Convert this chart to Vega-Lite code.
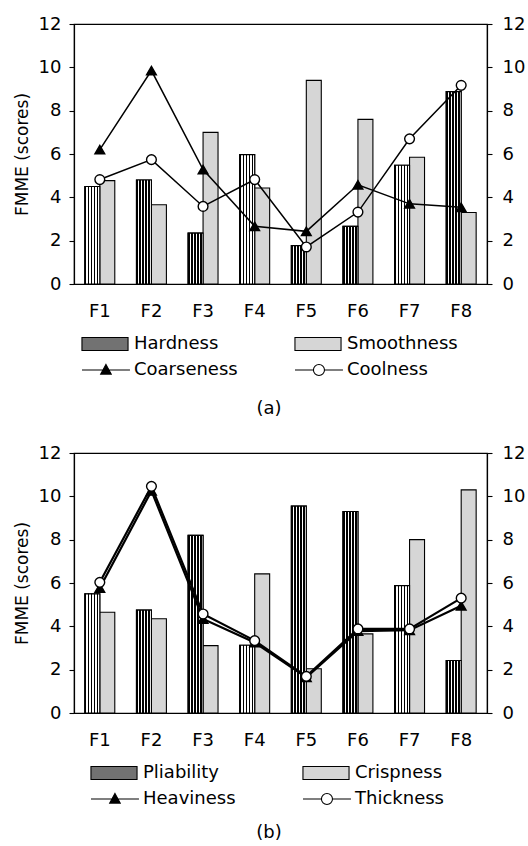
{
  "$schema": "https://vega.github.io/schema/vega-lite/v6.json",
  "padding": {"left": 12, "top": 14, "right": 5, "bottom": 0},
  "spacing": 24,
  "resolve": {"scale": {"fill": "independent", "shape": "independent", "xOffset": "independent", "x": "independent", "y": "independent"}, "legend": {"fill": "independent", "shape": "independent"}},
  "datasets": {
    "a": [
      {"F": "F1", "series": "Hardness", "value": 4.5},
      {"F": "F2", "series": "Hardness", "value": 4.8},
      {"F": "F3", "series": "Hardness", "value": 2.35},
      {"F": "F4", "series": "Hardness", "value": 5.97},
      {"F": "F5", "series": "Hardness", "value": 1.77},
      {"F": "F6", "series": "Hardness", "value": 2.66},
      {"F": "F7", "series": "Hardness", "value": 5.48},
      {"F": "F8", "series": "Hardness", "value": 8.88},
      {"F": "F1", "series": "Smoothness", "value": 4.77},
      {"F": "F2", "series": "Smoothness", "value": 3.66},
      {"F": "F3", "series": "Smoothness", "value": 7.0},
      {"F": "F4", "series": "Smoothness", "value": 4.43},
      {"F": "F5", "series": "Smoothness", "value": 9.4},
      {"F": "F6", "series": "Smoothness", "value": 7.6},
      {"F": "F7", "series": "Smoothness", "value": 5.85},
      {"F": "F8", "series": "Smoothness", "value": 3.3},
      {"F": "F1", "series": "Coarseness", "value": 6.2},
      {"F": "F2", "series": "Coarseness", "value": 9.85},
      {"F": "F3", "series": "Coarseness", "value": 5.28},
      {"F": "F4", "series": "Coarseness", "value": 2.66},
      {"F": "F5", "series": "Coarseness", "value": 2.43},
      {"F": "F6", "series": "Coarseness", "value": 4.58},
      {"F": "F7", "series": "Coarseness", "value": 3.7},
      {"F": "F8", "series": "Coarseness", "value": 3.54},
      {"F": "F1", "series": "Coolness", "value": 4.82},
      {"F": "F2", "series": "Coolness", "value": 5.74},
      {"F": "F3", "series": "Coolness", "value": 3.58},
      {"F": "F4", "series": "Coolness", "value": 4.82},
      {"F": "F5", "series": "Coolness", "value": 1.71},
      {"F": "F6", "series": "Coolness", "value": 3.32},
      {"F": "F7", "series": "Coolness", "value": 6.7},
      {"F": "F8", "series": "Coolness", "value": 9.17}
    ],
    "b": [
      {"F": "F1", "series": "Pliability", "value": 5.5},
      {"F": "F2", "series": "Pliability", "value": 4.75},
      {"F": "F3", "series": "Pliability", "value": 8.2},
      {"F": "F4", "series": "Pliability", "value": 3.13},
      {"F": "F5", "series": "Pliability", "value": 9.55},
      {"F": "F6", "series": "Pliability", "value": 9.3},
      {"F": "F7", "series": "Pliability", "value": 5.88},
      {"F": "F8", "series": "Pliability", "value": 2.42},
      {"F": "F1", "series": "Crispness", "value": 4.65},
      {"F": "F2", "series": "Crispness", "value": 4.35},
      {"F": "F3", "series": "Crispness", "value": 3.11},
      {"F": "F4", "series": "Crispness", "value": 6.42},
      {"F": "F5", "series": "Crispness", "value": 2.04},
      {"F": "F6", "series": "Crispness", "value": 3.65},
      {"F": "F7", "series": "Crispness", "value": 8.0},
      {"F": "F8", "series": "Crispness", "value": 10.3},
      {"F": "F1", "series": "Heaviness", "value": 5.77},
      {"F": "F2", "series": "Heaviness", "value": 10.25},
      {"F": "F3", "series": "Heaviness", "value": 4.34},
      {"F": "F4", "series": "Heaviness", "value": 3.25},
      {"F": "F5", "series": "Heaviness", "value": 1.65},
      {"F": "F6", "series": "Heaviness", "value": 3.78},
      {"F": "F7", "series": "Heaviness", "value": 3.82},
      {"F": "F8", "series": "Heaviness", "value": 4.95},
      {"F": "F1", "series": "Thickness", "value": 6.03},
      {"F": "F2", "series": "Thickness", "value": 10.46},
      {"F": "F3", "series": "Thickness", "value": 4.57},
      {"F": "F4", "series": "Thickness", "value": 3.34},
      {"F": "F5", "series": "Thickness", "value": 1.69},
      {"F": "F6", "series": "Thickness", "value": 3.88},
      {"F": "F7", "series": "Thickness", "value": 3.88},
      {"F": "F8", "series": "Thickness", "value": 5.3}
    ]
  },
  "vconcat": [
    {
      "width": 413,
      "height": 260,
      "data": {"name": "a"},
      "title": {"text": "(a)", "orient": "bottom", "anchor": "middle", "frame": "bounds", "offset": 21, "fontSize": 18, "fontWeight": "normal", "font": "DejaVu Sans", "color": "black"},
      "resolve": {"axis": {"y": "independent"}},
      "layer": [
        {
          "transform": [{"filter": "datum.series === 'Hardness' || datum.series === 'Smoothness'"}],
          "mark": {"type": "bar", "stroke": "black", "strokeWidth": 1.1},
          "encoding": {
            "x": {"field": "F", "type": "nominal", "sort": null, "scale": {"paddingInner": 0.42, "paddingOuter": 0.21},
                  "axis": {"title": null, "labelAngle": 0, "ticks": false, "labelPadding": 18}},
            "xOffset": {"field": "series", "type": "nominal", "scale": {"domain": ["Hardness", "Smoothness"], "paddingInner": 0, "paddingOuter": 0}},
            "y": {"field": "value", "type": "quantitative", "scale": {"domain": [0, 12], "nice": false},
                  "axis": {"orient": "left", "title": "FMME (scores)", "values": [0, 2, 4, 6, 8, 10, 12], "tickSize": 5, "labelPadding": 8, "titlePadding": 7}},
            "fill": {"field": "series", "type": "nominal",
              "scale": {"domain": ["Hardness", "Smoothness", "Coarseness", "Coolness"], "range": ["#727272", "#d6d6d6", "#000000", "#ffffff"]},
              "legend": {
                "orient": "none", "direction": "horizontal", "legendX": 6, "legendY": 311, "columns": 2, "columnPadding": 55, "rowPadding": 8,
                "clipHeight": 18, "symbolSize": 2304, "labelOffset": 4, "title": null, "padding": 0,
                "symbolStrokeColor": "black", "symbolStrokeWidth": 1.1, "symbolOpacity": 1,
                "encode": {"symbols": {"update": {
                  "stroke": {"value": "black"},
                  "strokeWidth": {"value": 1.1},
                  "shape": [
                    {"test": "datum.value === 'Hardness' || datum.value === 'Smoothness'", "value": "M-0.96,-0.27H0.96V0.27H-0.96Z"},
                    {"test": "datum.value === 'Coarseness'", "value": "M-0.96,0H1.04M0.04,-0.23L0.26,0.17L-0.18,0.17Z"},
                    {"value": "M-0.96,0H-0.19M0.27,0H1.04M-0.19,0A0.23,0.23 0 1 1 0.27,0A0.23,0.23 0 1 1 -0.19,0Z"}
                  ]
                }}}
              }
            }
          }
        },
        {
          "transform": [{"filter": "datum.series === 'Hardness'"}],
          "mark": {"type": "bar", "stroke": "black", "strokeWidth": 1.1,
            "fill": {"gradient": "linear", "x1": 0, "y1": 0, "x2": 1, "y2": 0, "stops": [
              {"offset": 0, "color": "#000"}, {"offset": 0.11, "color": "#000"}, {"offset": 0.11, "color": "#fff"}, {"offset": 0.2, "color": "#fff"},
              {"offset": 0.2, "color": "#000"}, {"offset": 0.31, "color": "#000"}, {"offset": 0.31, "color": "#fff"}, {"offset": 0.4, "color": "#fff"},
              {"offset": 0.4, "color": "#000"}, {"offset": 0.51, "color": "#000"}, {"offset": 0.51, "color": "#fff"}, {"offset": 0.6, "color": "#fff"},
              {"offset": 0.6, "color": "#000"}, {"offset": 0.71, "color": "#000"}, {"offset": 0.71, "color": "#fff"}, {"offset": 0.8, "color": "#fff"},
              {"offset": 0.8, "color": "#000"}, {"offset": 0.91, "color": "#000"}, {"offset": 0.91, "color": "#fff"}, {"offset": 1, "color": "#fff"}]}},
          "encoding": {
            "x": {"field": "F", "type": "nominal", "sort": null},
            "xOffset": {"field": "series", "type": "nominal"},
            "y": {"field": "value", "type": "quantitative", "axis": null}
          }
        },
        {
          "transform": [{"filter": "datum.series === 'Coarseness' || datum.series === 'Coolness'"}],
          "mark": {"type": "line", "stroke": "black", "strokeWidth": 1.5},
          "encoding": {
            "x": {"field": "F", "type": "nominal", "sort": null},
            "y": {"field": "value", "type": "quantitative",
                  "axis": {"orient": "right", "title": null, "values": [0, 2, 4, 6, 8, 10, 12], "tickSize": 5, "labelPadding": 10}},
            "detail": {"field": "series", "type": "nominal"}
          }
        },
        {
          "transform": [{"filter": "datum.series === 'Coarseness' || datum.series === 'Coolness'"}],
          "mark": {"type": "point", "filled": true, "stroke": "black", "strokeWidth": 1.4, "opacity": 1, "size": 95},
          "encoding": {
            "x": {"field": "F", "type": "nominal", "sort": null},
            "y": {"field": "value", "type": "quantitative", "axis": null},
            "fill": {"field": "series", "type": "nominal"},
            "shape": {"field": "series", "type": "nominal", "scale": {"domain": ["Coarseness", "Coolness"], "range": ["triangle-up", "circle"]}, "legend": null}
          }
        }
      ]
    },
    {
      "width": 413,
      "height": 260,
      "data": {"name": "b"},
      "title": {"text": "(b)", "orient": "bottom", "anchor": "middle", "frame": "bounds", "offset": 16, "fontSize": 18, "fontWeight": "normal", "font": "DejaVu Sans", "color": "black"},
      "resolve": {"axis": {"y": "independent"}},
      "layer": [
        {
          "transform": [{"filter": "datum.series === 'Pliability' || datum.series === 'Crispness'"}],
          "mark": {"type": "bar", "stroke": "black", "strokeWidth": 1.1},
          "encoding": {
            "x": {"field": "F", "type": "nominal", "sort": null, "scale": {"paddingInner": 0.42, "paddingOuter": 0.21},
                  "axis": {"title": null, "labelAngle": 0, "ticks": false, "labelPadding": 18}},
            "xOffset": {"field": "series", "type": "nominal", "scale": {"domain": ["Pliability", "Crispness"], "paddingInner": 0, "paddingOuter": 0}},
            "y": {"field": "value", "type": "quantitative", "scale": {"domain": [0, 12], "nice": false},
                  "axis": {"orient": "left", "title": "FMME (scores)", "values": [0, 2, 4, 6, 8, 10, 12], "tickSize": 5, "labelPadding": 8, "titlePadding": 7}},
            "fill": {"field": "series", "type": "nominal",
              "scale": {"domain": ["Pliability", "Crispness", "Heaviness", "Thickness"], "range": ["#727272", "#d6d6d6", "#000000", "#ffffff"]},
              "legend": {
                "orient": "none", "direction": "horizontal", "legendX": 15, "legendY": 311, "columns": 2, "columnPadding": 65, "rowPadding": 8,
                "clipHeight": 18, "symbolSize": 2304, "labelOffset": 4, "title": null, "padding": 0,
                "symbolStrokeColor": "black", "symbolStrokeWidth": 1.1, "symbolOpacity": 1,
                "encode": {"symbols": {"update": {
                  "stroke": {"value": "black"},
                  "strokeWidth": {"value": 1.1},
                  "shape": [
                    {"test": "datum.value === 'Pliability' || datum.value === 'Crispness'", "value": "M-0.96,-0.27H0.96V0.27H-0.96Z"},
                    {"test": "datum.value === 'Heaviness'", "value": "M-0.96,0H1.04M0.04,-0.23L0.26,0.17L-0.18,0.17Z"},
                    {"value": "M-0.96,0H-0.19M0.27,0H1.04M-0.19,0A0.23,0.23 0 1 1 0.27,0A0.23,0.23 0 1 1 -0.19,0Z"}
                  ]
                }}}
              }
            }
          }
        },
        {
          "transform": [{"filter": "datum.series === 'Pliability'"}],
          "mark": {"type": "bar", "stroke": "black", "strokeWidth": 1.1,
            "fill": {"gradient": "linear", "x1": 0, "y1": 0, "x2": 1, "y2": 0, "stops": [
              {"offset": 0, "color": "#000"}, {"offset": 0.11, "color": "#000"}, {"offset": 0.11, "color": "#fff"}, {"offset": 0.2, "color": "#fff"},
              {"offset": 0.2, "color": "#000"}, {"offset": 0.31, "color": "#000"}, {"offset": 0.31, "color": "#fff"}, {"offset": 0.4, "color": "#fff"},
              {"offset": 0.4, "color": "#000"}, {"offset": 0.51, "color": "#000"}, {"offset": 0.51, "color": "#fff"}, {"offset": 0.6, "color": "#fff"},
              {"offset": 0.6, "color": "#000"}, {"offset": 0.71, "color": "#000"}, {"offset": 0.71, "color": "#fff"}, {"offset": 0.8, "color": "#fff"},
              {"offset": 0.8, "color": "#000"}, {"offset": 0.91, "color": "#000"}, {"offset": 0.91, "color": "#fff"}, {"offset": 1, "color": "#fff"}]}},
          "encoding": {
            "x": {"field": "F", "type": "nominal", "sort": null},
            "xOffset": {"field": "series", "type": "nominal"},
            "y": {"field": "value", "type": "quantitative", "axis": null}
          }
        },
        {
          "transform": [{"filter": "datum.series === 'Heaviness' || datum.series === 'Thickness'"}],
          "mark": {"type": "line", "stroke": "black", "strokeWidth": 2.2},
          "encoding": {
            "x": {"field": "F", "type": "nominal", "sort": null},
            "y": {"field": "value", "type": "quantitative",
                  "axis": {"orient": "right", "title": null, "values": [0, 2, 4, 6, 8, 10, 12], "tickSize": 5, "labelPadding": 10}},
            "detail": {"field": "series", "type": "nominal"}
          }
        },
        {
          "transform": [{"filter": "datum.series === 'Heaviness' || datum.series === 'Thickness'"}],
          "mark": {"type": "point", "filled": true, "stroke": "black", "strokeWidth": 1.4, "opacity": 1, "size": 95},
          "encoding": {
            "x": {"field": "F", "type": "nominal", "sort": null},
            "y": {"field": "value", "type": "quantitative", "axis": null},
            "fill": {"field": "series", "type": "nominal"},
            "shape": {"field": "series", "type": "nominal", "scale": {"domain": ["Heaviness", "Thickness"], "range": ["triangle-up", "circle"]}, "legend": null}
          }
        }
      ]
    }
  ],
  "config": {
    "font": "DejaVu Sans",
    "background": "white",
    "view": {"stroke": "black", "strokeWidth": 1.2},
    "axis": {
      "labelFont": "DejaVu Sans", "labelFontSize": 18, "labelColor": "black",
      "titleFont": "DejaVu Sans", "titleFontSize": 17, "titleFontWeight": "normal", "titleColor": "black",
      "domainColor": "black", "domainWidth": 1.2, "tickColor": "black", "tickWidth": 1.1, "grid": false
    },
    "legend": {"labelFont": "DejaVu Sans", "labelFontSize": 18, "labelColor": "black", "labelLimit": 0}
  }
}
